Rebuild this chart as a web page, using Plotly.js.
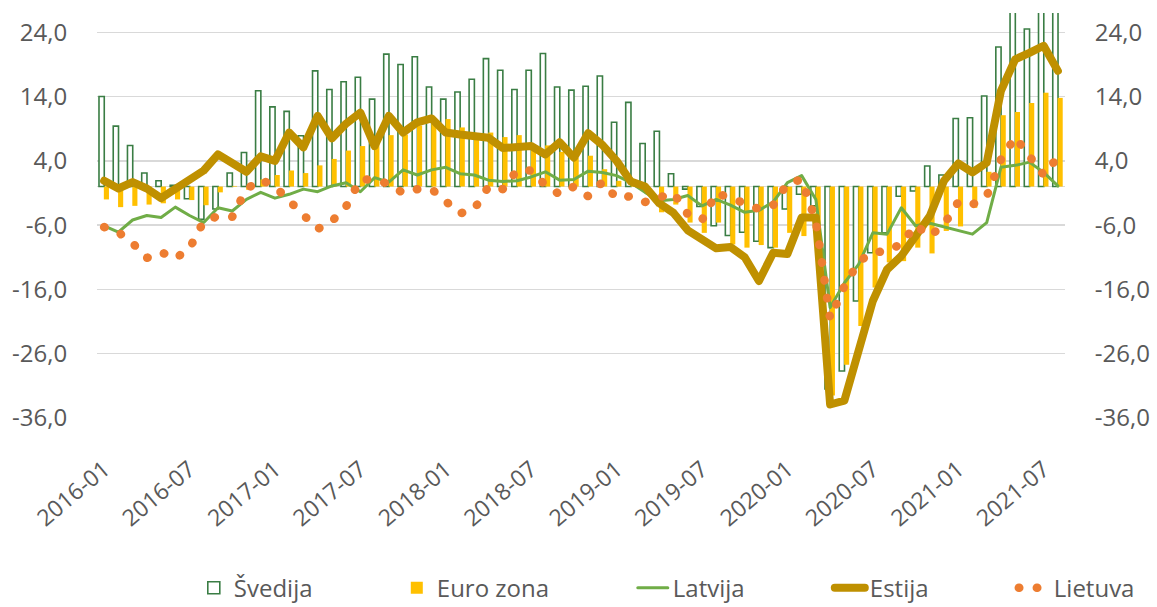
<!DOCTYPE html>
<html><head><meta charset="utf-8">
<script src="https://cdn.plot.ly/plotly-3.0.1.min.js"></script>
<style>
html,body{margin:0;padding:0;background:#fff;}
#chart{width:1157px;height:607px;}
.js-line{stroke-linecap:round !important;stroke-linejoin:round !important;}
</style></head><body><div id="chart"></div><script>
const months = ['2016-01','2016-02','2016-03','2016-04','2016-05','2016-06','2016-07','2016-08','2016-09','2016-10','2016-11','2016-12',
'2017-01','2017-02','2017-03','2017-04','2017-05','2017-06','2017-07','2017-08','2017-09','2017-10','2017-11','2017-12',
'2018-01','2018-02','2018-03','2018-04','2018-05','2018-06','2018-07','2018-08','2018-09','2018-10','2018-11','2018-12',
'2019-01','2019-02','2019-03','2019-04','2019-05','2019-06','2019-07','2019-08','2019-09','2019-10','2019-11','2019-12',
'2020-01','2020-02','2020-03','2020-04','2020-05','2020-06','2020-07','2020-08','2020-09','2020-10','2020-11','2020-12',
'2021-01','2021-02','2021-03','2021-04','2021-05','2021-06','2021-07','2021-08'];

const svedija = [14.0,9.4,6.4,2.1,0.9,0.2,-1.9,-5.1,-3.5,2.1,5.3,14.9,
12.4,11.7,7.9,18.0,15.1,16.3,17.0,13.6,20.6,19.0,20.2,15.5,
13.6,14.7,16.7,19.9,18.1,15.1,18.1,20.7,15.5,15.0,15.6,17.2,
10.0,13.1,6.7,8.6,2.0,-0.4,-3.1,-6.1,-7.6,-7.1,-8.5,-9.5,
-3.5,-1.2,-3.0,-31.5,-28.7,-17.8,-10.3,-7.2,-1.5,-0.7,3.2,1.8,
10.6,10.7,14.1,21.7,29.0,24.5,28.5,30.0];

const euroZona = [-2.0,-3.2,-3.0,-2.8,-2.6,-2.0,-2.1,-2.9,-0.9,0.1,-0.5,1.1,
1.8,2.5,2.1,3.3,4.3,5.6,6.3,7.8,8.0,8.1,9.5,10.0,
10.5,9.2,7.9,8.4,7.7,8.0,6.3,6.4,5.4,4.5,4.8,2.7,
0.9,0.2,-0.5,-4.0,-2.8,-5.6,-7.2,-5.6,-9.0,-9.5,-9.1,-9.5,
-7.2,-7.7,-6.5,-32.5,-27.7,-21.7,-15.7,-11.8,-11.6,-9.5,-10.4,-6.9,
-6.2,-3.3,2.3,11.1,11.6,13.0,14.6,13.8];

const latvija = [-6.1,-7.1,-5.2,-4.5,-4.8,-3.2,-4.5,-5.6,-3.3,-3.8,-2.0,-0.9,
-1.8,-1.2,-0.4,-0.8,0.1,0.6,-0.8,1.4,0.7,2.6,1.8,2.6,
3.0,2.0,1.8,1.0,0.8,0.9,1.5,2.3,1.0,1.1,2.4,2.2,
1.7,0.6,-0.9,-2.2,-2.0,-1.4,-3.0,-2.0,-2.9,-4.0,-3.7,-2.4,
0.6,1.7,-2.0,-18.8,-15.0,-12.1,-7.2,-7.4,-3.3,-6.1,-5.7,-6.3,
-6.8,-7.4,-5.6,3.0,3.3,3.8,2.2,0.1];

const estija = [0.9,-0.3,0.7,-0.3,-1.8,-0.4,1.0,2.5,5.0,3.7,2.3,4.7,
4.0,8.4,6.1,11.0,7.5,9.8,11.5,6.3,11.0,8.4,10.0,10.6,
8.4,8.1,8.0,7.6,6.0,6.1,6.3,5.0,6.9,4.5,8.3,6.5,
4.0,0.8,0.0,-2.6,-4.1,-6.8,-8.3,-9.6,-9.4,-11.0,-14.7,-10.3,
-10.5,-4.8,-4.8,-33.9,-33.3,-25.8,-17.8,-12.9,-10.8,-7.7,-4.6,0.9,
3.6,2.2,3.7,14.9,19.8,20.8,21.9,18.0];

const lietuva = [-6.3,-7.1,-8.8,-11.1,-10.2,-11.2,-9.6,-5.4,-4.6,-4.7,-0.4,1.1,
0.0,-2.1,-4.3,-6.6,-5.4,-3.1,1.1,1.1,0.4,-1.0,-0.4,-0.4,
-2.3,-4.2,-3.5,0.0,-0.4,2.5,2.5,0.2,-1.2,0.0,-1.5,0.7,
-1.8,-1.5,-2.4,-1.8,-1.0,-4.3,-5.2,-1.0,-1.7,-2.6,-3.5,-2.9,
0.5,1.1,-5.4,-20.5,-15.5,-11.7,-10.2,-10.1,-8.9,-6.0,-7.7,-5.9,
-2.4,-2.8,-1.5,4.2,7.7,4.9,1.8,4.6];

const seriesNames = ['Švedija','Euro zona','Latvija','Estija','Lietuva'];
const xTickVals = ['2016-01','2016-07','2017-01','2017-07','2018-01','2018-07','2019-01','2019-07','2020-01','2020-07','2021-01','2021-07'];
const yTickVals = [-36,-26,-16,-6,4,14,24];
const yTickText = ['-36,0','-26,0','-16,0','-6,0','4,0','14,0','24,0'];

const FONT = 'Open Sans, Lato, sans-serif';
const GREY = '#595959';

const traces = [
  {type:'bar', name:seriesNames[0], x:months, y:svedija, offset:-0.36, width:0.37,
   marker:{color:'#ffffff', line:{color:'#3A7D44', width:1.6}}, legendwidth:158},
  {type:'bar', name:seriesNames[1], x:months, y:euroZona, offset:-0.02, width:0.36,
   marker:{color:'#FFC000', line:{width:0}}, legendwidth:191},
  {type:'scatter', mode:'lines', name:seriesNames[2], x:months, y:latvija, yaxis:'y2',
   line:{color:'#70AD47', width:3}, legendwidth:152},
  {type:'scatter', mode:'lines', name:seriesNames[3], x:months, y:estija, yaxis:'y2',
   line:{color:'#BF9000', width:8}, legendwidth:139},
  {type:'scatter', mode:'lines', name:seriesNames[4], x:months, y:lietuva, yaxis:'y2',
   line:{color:'#ED7D31', width:8.5, dash:'0.5px,17.5px'}}
];

const yCommon = {
  range:[-36, 27.0], tickmode:'array', tickvals:yTickVals, ticktext:yTickText,
  tickfont:{family:FONT, size:24, color:GREY}, ticks:'outside', ticklen:24,
  tickcolor:'rgba(0,0,0,0)', fixedrange:true
};

const layout = {
  width:1157, height:607,
  margin:{l:97, r:92, t:13, b:189, pad:0, autoexpand:false},
  paper_bgcolor:'#ffffff', plot_bgcolor:'#ffffff',
  barmode:'overlay',
  showlegend:true,
  font:{family:FONT, color:GREY},
  xaxis:{type:'category', range:[-0.5, 67.5], tickmode:'array', tickvals:xTickVals, ticktext:xTickVals,
    tickangle:-40, tickfont:{family:FONT, size:23, color:GREY}, ticks:'outside', ticklen:28,
    tickcolor:'rgba(0,0,0,0)', showgrid:false, zeroline:false, showline:false, automargin:false},
  yaxis:Object.assign({}, yCommon, {showgrid:true, gridcolor:'#D9D9D9', gridwidth:1.5,
    zeroline:true, zerolinecolor:'#D9D9D9', zerolinewidth:1.5, showline:false, automargin:false}),
  yaxis2:Object.assign({}, yCommon, {overlaying:'y', side:'right', showgrid:false, zeroline:false, showline:false, automargin:false}),
  legend:{orientation:'h', x:0.1, xanchor:'left', y:-0.42, yanchor:'middle',
    font:{family:FONT, size:24, color:GREY}, traceorder:'normal', bgcolor:'rgba(0,0,0,0)',
    itemwidth:30, tracegroupgap:0}
};

Plotly.newPlot('chart', traces, layout, {displayModeBar:false, staticPlot:true});
</script></body></html>
